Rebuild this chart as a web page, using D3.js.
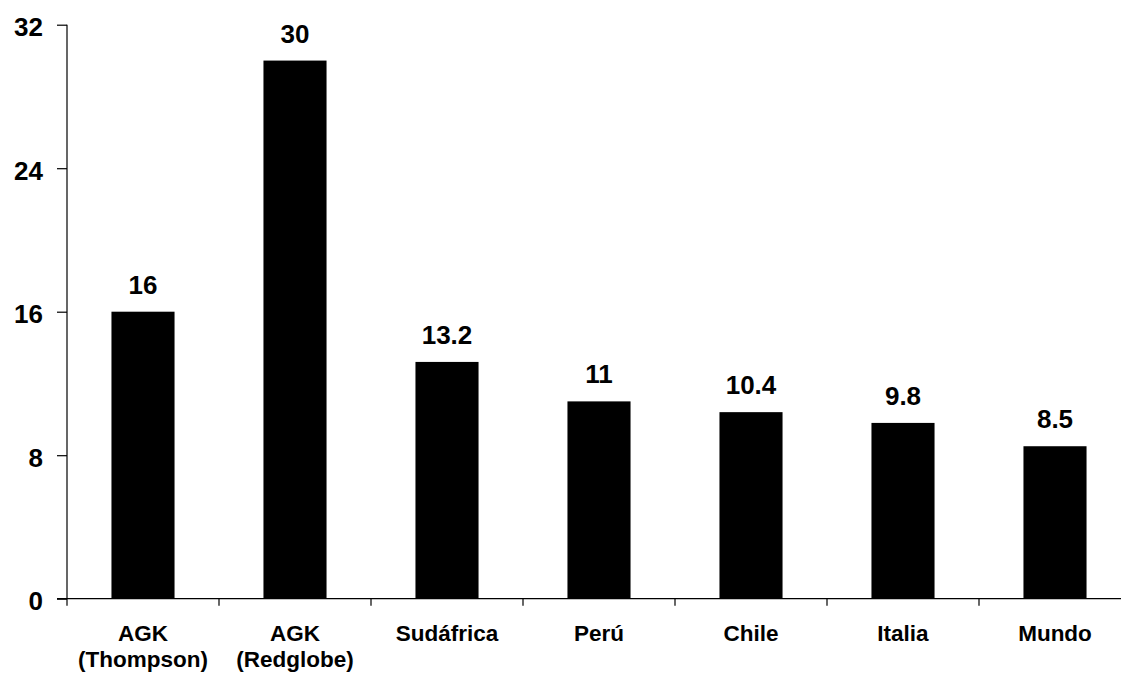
<!DOCTYPE html>
<html>
<head>
<meta charset="utf-8">
<script src="https://cdn.jsdelivr.net/npm/d3@7"></script>
<style>
  html, body { margin: 0; padding: 0; background: #fff; }
  svg { display: block; }
  text { font-family: "Liberation Sans", Arial, Helvetica, sans-serif; font-weight: bold; fill: #000; }
</style>
</head>
<body>
<svg id="chart" width="1121" height="675"></svg>
<script>
// Categories (two-line labels split on "\n")
const categories = ["AGK\n(Thompson)", "AGK\n(Redglobe)", "Sudáfrica", "Perú", "Chile", "Italia", "Mundo"];
// Values shown on each bar
const values = [16, 30, 13.2, 11, 10.4, 9.8, 8.5];
const valueLabels = ["16", "30", "13.2", "11", "10.4", "9.8", "8.5"];
// Y axis ticks
const yTicks = [0, 8, 16, 24, 32];

const svg = d3.select("#chart");
const W = 1121, H = 675;
const plotLeft = 67, plotRight = 1131, plotTop = 24.7, plotBottom = 598.7;

const x = d3.scaleBand()
  .domain(categories)
  .range([plotLeft, plotRight])
  .paddingInner(0.585)
  .paddingOuter(0.2925);

const y = d3.scaleLinear().domain([0, 32]).range([plotBottom, plotTop]);

// Bars
svg.append("g").selectAll("rect")
  .data(values)
  .join("rect")
  .attr("x", (d, i) => x(categories[i]))
  .attr("y", d => y(d))
  .attr("width", x.bandwidth())
  .attr("height", d => y(0) - y(d))
  .attr("fill", "#000");

// Value labels above bars
svg.append("g").selectAll("text")
  .data(values)
  .join("text")
  .attr("x", (d, i) => x(categories[i]) + x.bandwidth() / 2)
  .attr("y", d => y(d) - 18)
  .attr("text-anchor", "middle")
  .attr("font-size", 26)
  .text((d, i) => valueLabels[i]);

// Y axis
const yAxis = d3.axisLeft(y).tickValues(yTicks).tickSize(10).tickPadding(14).tickFormat(d3.format("d"));
const gy = svg.append("g").attr("transform", `translate(${plotLeft},0)`).call(yAxis);
gy.attr("font-family", null).attr("font-size", null);
gy.select(".domain").attr("stroke", "#000").attr("stroke-width", 1.2).attr("d", `M0,${plotTop}V${plotBottom}`);
gy.selectAll(".tick line").attr("stroke", "#000").attr("stroke-width", 1.2);
gy.selectAll(".tick text")
  .attr("font-size", 26)
  .attr("fill", "#000")
  .attr("dy", null)
  .attr("y", 11);

// X axis: line at zero with ticks on category boundaries
const step = x.step();
const boundaries = d3.range(categories.length + 1).map(i => plotLeft + i * step);
svg.append("line")
  .attr("x1", plotLeft - 10).attr("x2", W)
  .attr("y1", y(0)).attr("y2", y(0))
  .attr("stroke", "#000").attr("stroke-width", 1.2);
svg.append("g").selectAll("line")
  .data(boundaries)
  .join("line")
  .attr("x1", d => d).attr("x2", d => d)
  .attr("y1", y(0)).attr("y2", y(0) + 7)
  .attr("stroke", "#000").attr("stroke-width", 1.2);

// Category labels
const xl = svg.append("g").selectAll("text")
  .data(categories)
  .join("text")
  .attr("text-anchor", "middle")
  .attr("font-size", 22.5)
  .attr("x", d => x(d) + x.bandwidth() / 2)
  .attr("y", 641);
xl.each(function(d) {
  const lines = d.split("\n");
  d3.select(this).selectAll("tspan")
    .data(lines)
    .join("tspan")
    .attr("x", x(d) + x.bandwidth() / 2)
    .attr("dy", (l, i) => i === 0 ? 0 : 26)
    .text(l => l);
});
</script>
</body>
</html>
